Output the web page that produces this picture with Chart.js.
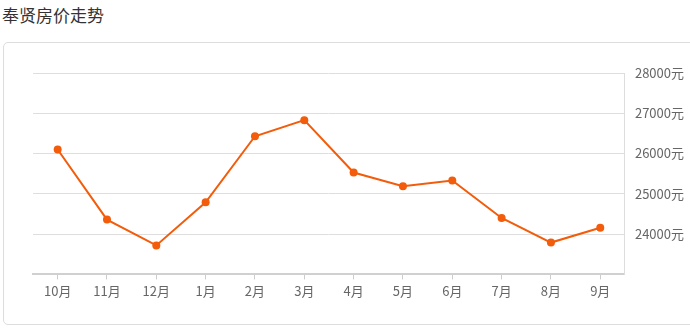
<html>
  <head>
    <title>奉贤房价走势</title>
    <script src="https://cdn.jsdelivr.net/npm/chart.js@4.4.1/dist/chart.umd.min.js"></script>
    <style>
    body{
      margin: 0;
      background: #fff;
      overflow: hidden;
      font-family: "Noto Sans CJK SC", "Noto Sans", sans-serif;
    }
    .title{
      position: absolute;
      left: 2px;
      top: 3px;
      font-size: 17px;
      color: #333;
      line-height: 24px;
    }
    .card{
      position: absolute;
      left: 3px;
      top: 42px;
      width: 720px;
      height: 281px;
      border: 1px solid #ddd;
      border-radius: 5px;
    }
    </style>
  </head>
  <body>
    <div class="title">奉贤房价走势</div>
    <div class="card"></div>
    <div style="position:absolute; left:0; top:0; width:694px; height:328px;">
      <canvas id="priceChart"></canvas>
    </div>

    <script>
      // months, Oct -> Sep
      var months = ['10月', '11月', '12月', '1月', '2月', '3月', '4月', '5月', '6月', '7月', '8月', '9月'];
      var prices = [26100, 24360, 23720, 24790, 26430, 26830, 25530, 25190, 25330, 24400, 23790, 24160];
      var yTicks = [23000, 24000, 25000, 26000, 27000, 28000];

      var lineColor = '#f25c0a';

      new Chart(document.getElementById('priceChart'), {
        type: 'line',
        data: {
          labels: months,
          datasets: [{
            data: prices,
            borderColor: lineColor,
            backgroundColor: lineColor,
            borderWidth: 2,
            pointRadius: 4,
            pointBackgroundColor: lineColor,
            pointBorderWidth: 0,
            tension: 0
          }]
        },
        options: {
          responsive: true,
          maintainAspectRatio: false,
          animation: false,
          layout: { padding: { left: 33, top: 73, right: 0, bottom: 25 } },
          plugins: { legend: { display: false }, tooltip: { enabled: false } },
          scales: {
            x: {
              offset: true,
              grid: { offset: false, drawOnChartArea: false, tickLength: 5, color: '#ccc' },
              border: { color: '#d0d0d0', width: 2 },
              ticks: { color: '#666', font: { size: 13, family: '"Noto Sans CJK SC"' }, padding: 4 }
            },
            y: {
              position: 'right',
              min: yTicks[0],
              max: yTicks[yTicks.length - 1],
              afterBuildTicks: function (axis) {
                axis.ticks = yTicks.map(function (v) { return { value: v }; });
              },
              grid: { color: '#dedede', drawTicks: false },
              border: { color: '#ddd', width: 1 },
              ticks: {
                color: '#666',
                padding: 10,
                font: { size: 13, family: '"Noto Sans CJK SC"' },
                callback: function (v) { return v === yTicks[0] ? '' : v + '元'; }
              }
            }
          }
        }
      });
    </script>
  </body>
</html>
